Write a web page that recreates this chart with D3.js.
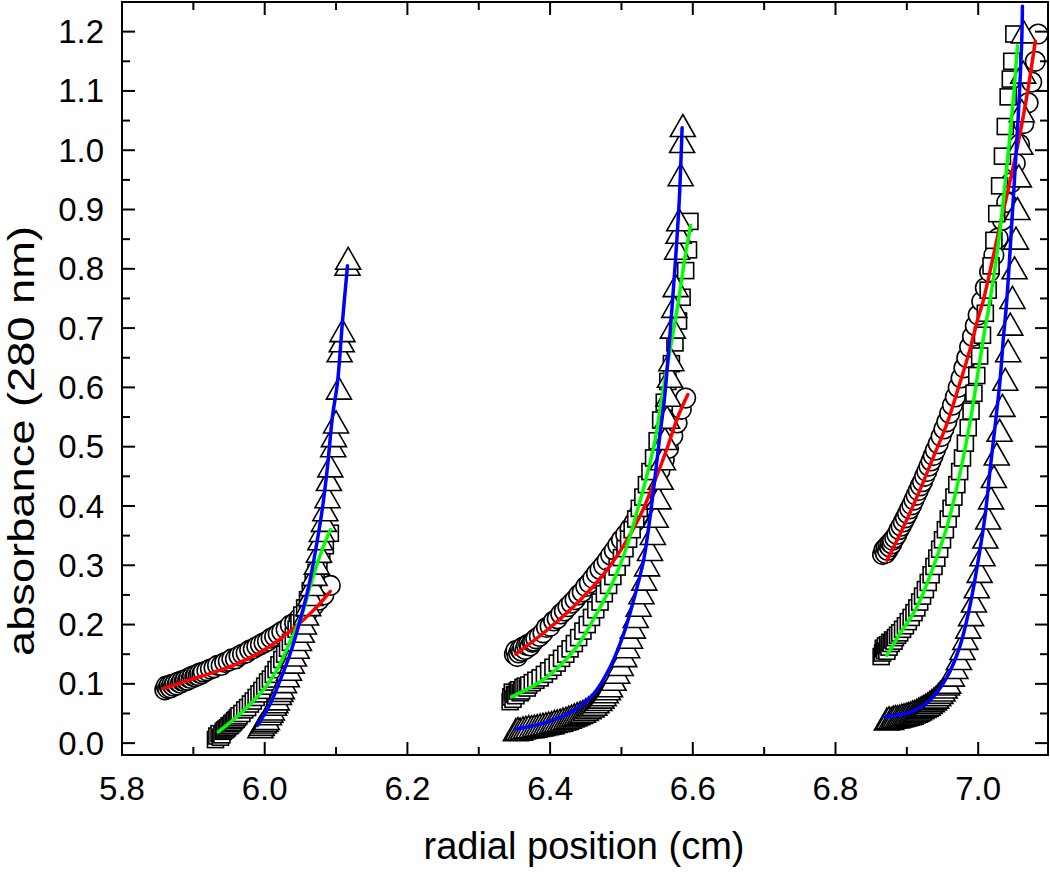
<!DOCTYPE html>
<html><head><meta charset="utf-8">
<script src="https://cdn.jsdelivr.net/npm/d3@7"></script>
<style>html,body{margin:0;padding:0;background:#fff;}svg{display:block;}</style>
</head><body>
<svg id="chart" width="1050" height="872"></svg>
<script>
// ---------- data (radial position cm, absorbance) ----------
// Cell 1
const circles1 = [[5.860,0.090],[5.862,0.096],[5.864,0.092],[5.866,0.097],[5.868,0.093],[5.870,0.099],[5.872,0.096],[5.874,0.100],[5.877,0.098],[5.879,0.103],[5.882,0.101],[5.884,0.105],[5.887,0.104],[5.889,0.107],[5.892,0.106],[5.894,0.110],[5.897,0.109],[5.899,0.113],[5.902,0.112],[5.904,0.115],[5.907,0.114],[5.909,0.118],[5.912,0.117],[5.914,0.120],[5.919,0.122],[5.924,0.125],[5.929,0.127],[5.934,0.131],[5.939,0.131],[5.944,0.136],[5.949,0.138],[5.954,0.142],[5.959,0.142],[5.964,0.147],[5.969,0.150],[5.974,0.152],[5.979,0.157],[5.984,0.159],[5.989,0.163],[5.994,0.166],[5.999,0.169],[6.004,0.172],[6.009,0.177],[6.014,0.180],[6.019,0.184],[6.024,0.188],[6.030,0.192],[6.036,0.199],[6.042,0.203],[6.048,0.210],[6.055,0.216],[6.062,0.224],[6.069,0.232],[6.076,0.241],[6.083,0.250],[6.092,0.266]];
const squares1 = [[5.931,0.006],[5.933,0.012],[5.936,0.016],[5.938,0.010],[5.940,0.014],[5.942,0.020],[5.944,0.022],[5.946,0.024],[5.948,0.026],[5.950,0.029],[5.952,0.030],[5.954,0.033],[5.956,0.035],[5.958,0.038],[5.960,0.040],[5.962,0.043],[5.964,0.046],[5.968,0.050],[5.972,0.056],[5.976,0.060],[5.980,0.066],[5.984,0.071],[5.988,0.077],[5.992,0.083],[5.996,0.089],[6.000,0.096],[6.004,0.103],[6.008,0.108],[6.012,0.116],[6.016,0.124],[6.020,0.132],[6.024,0.141],[6.028,0.150],[6.032,0.160],[6.036,0.170],[6.040,0.180],[6.044,0.192],[6.048,0.203],[6.052,0.216],[6.056,0.228],[6.060,0.242],[6.064,0.257],[6.068,0.272],[6.072,0.288],[6.076,0.305],[6.080,0.318],[6.085,0.333],[6.092,0.354]];
const triangles1 = [[5.994,0.026],[5.996,0.030],[5.999,0.034],[6.001,0.037],[6.003,0.040],[6.006,0.048],[6.008,0.052],[6.010,0.056],[6.013,0.064],[6.015,0.068],[6.017,0.073],[6.020,0.082],[6.022,0.087],[6.024,0.092],[6.027,0.102],[6.031,0.112],[6.034,0.123],[6.038,0.135],[6.041,0.147],[6.045,0.160],[6.048,0.173],[6.052,0.187],[6.055,0.201],[6.058,0.216],[6.061,0.232],[6.064,0.249],[6.067,0.266],[6.070,0.283],[6.073,0.302],[6.076,0.322],[6.078,0.343],[6.080,0.357],[6.083,0.374],[6.085,0.392],[6.088,0.414],[6.090,0.443],[6.092,0.466],[6.096,0.500],[6.097,0.517],[6.100,0.540],[6.104,0.597],[6.105,0.660],[6.108,0.677],[6.109,0.694],[6.116,0.806],[6.117,0.816]];
const fitRed1 = [[5.858,0.092],[5.909,0.112],[5.956,0.131],[6.003,0.160],[6.040,0.193],[6.070,0.226],[6.092,0.256]];
const fitGreen1 = [[5.935,0.019],[5.966,0.050],[6.001,0.094],[6.017,0.123],[6.036,0.172],[6.052,0.216],[6.064,0.266],[6.078,0.318],[6.092,0.360]];
const fitBlue1 = [[5.990,0.030],[6.008,0.067],[6.022,0.107],[6.036,0.152],[6.050,0.209],[6.062,0.266],[6.071,0.323],[6.081,0.397],[6.088,0.466],[6.095,0.551],[6.102,0.608],[6.109,0.711],[6.116,0.805]];
// Cell 2
const circles2 = [[6.350,0.150],[6.352,0.156],[6.354,0.146],[6.356,0.152],[6.358,0.158],[6.360,0.155],[6.362,0.162],[6.365,0.158],[6.367,0.165],[6.370,0.167],[6.372,0.164],[6.375,0.170],[6.377,0.172],[6.380,0.176],[6.385,0.180],[6.390,0.186],[6.395,0.195],[6.400,0.197],[6.405,0.206],[6.410,0.210],[6.415,0.218],[6.420,0.223],[6.425,0.230],[6.430,0.236],[6.435,0.242],[6.440,0.250],[6.445,0.255],[6.450,0.264],[6.455,0.270],[6.460,0.278],[6.465,0.286],[6.470,0.293],[6.475,0.300],[6.480,0.308],[6.485,0.317],[6.490,0.325],[6.495,0.334],[6.500,0.343],[6.506,0.352],[6.512,0.362],[6.518,0.372],[6.524,0.385],[6.530,0.398],[6.536,0.412],[6.542,0.427],[6.548,0.443],[6.554,0.460],[6.560,0.478],[6.566,0.497],[6.572,0.518],[6.578,0.540],[6.584,0.563],[6.590,0.582]];
const squares2 = [[6.344,0.070],[6.345,0.078],[6.347,0.086],[6.348,0.074],[6.350,0.082],[6.352,0.080],[6.354,0.088],[6.356,0.090],[6.358,0.085],[6.360,0.088],[6.362,0.094],[6.365,0.096],[6.368,0.093],[6.370,0.098],[6.375,0.102],[6.380,0.106],[6.386,0.110],[6.392,0.116],[6.398,0.122],[6.404,0.128],[6.410,0.135],[6.416,0.143],[6.422,0.150],[6.428,0.159],[6.434,0.168],[6.440,0.178],[6.446,0.189],[6.452,0.200],[6.458,0.212],[6.464,0.225],[6.470,0.238],[6.476,0.252],[6.482,0.266],[6.488,0.281],[6.494,0.297],[6.500,0.313],[6.505,0.328],[6.510,0.344],[6.515,0.360],[6.520,0.378],[6.525,0.396],[6.530,0.415],[6.535,0.436],[6.540,0.458],[6.545,0.481],[6.550,0.510],[6.555,0.545],[6.560,0.575],[6.565,0.610],[6.570,0.640],[6.575,0.675],[6.580,0.712],[6.585,0.752],[6.590,0.797],[6.594,0.832],[6.596,0.880]];
const triangles2 = [[6.352,0.021],[6.355,0.023],[6.358,0.022],[6.362,0.024],[6.366,0.025],[6.370,0.026],[6.374,0.026],[6.378,0.027],[6.382,0.028],[6.386,0.029],[6.390,0.030],[6.394,0.031],[6.398,0.032],[6.402,0.033],[6.406,0.035],[6.410,0.036],[6.414,0.037],[6.418,0.039],[6.422,0.040],[6.426,0.042],[6.430,0.044],[6.434,0.046],[6.438,0.048],[6.442,0.050],[6.446,0.052],[6.450,0.055],[6.454,0.058],[6.458,0.061],[6.462,0.064],[6.465,0.068],[6.469,0.072],[6.472,0.076],[6.475,0.080],[6.478,0.085],[6.481,0.090],[6.484,0.095],[6.489,0.106],[6.494,0.118],[6.499,0.131],[6.504,0.146],[6.508,0.161],[6.512,0.177],[6.516,0.194],[6.520,0.212],[6.524,0.231],[6.528,0.252],[6.532,0.275],[6.536,0.299],[6.540,0.325],[6.544,0.352],[6.548,0.381],[6.552,0.412],[6.555,0.445],[6.558,0.478],[6.561,0.512],[6.564,0.548],[6.566,0.585],[6.568,0.617],[6.570,0.645],[6.572,0.700],[6.574,0.735],[6.576,0.770],[6.578,0.833],[6.580,0.860],[6.581,0.881],[6.583,0.957],[6.585,1.013],[6.586,1.040]];
const fitRed2 = [[6.352,0.150],[6.395,0.190],[6.442,0.241],[6.479,0.291],[6.503,0.333],[6.526,0.383],[6.545,0.437],[6.563,0.494],[6.580,0.553],[6.593,0.588]];
const fitGreen2 = [[6.346,0.078],[6.395,0.111],[6.437,0.162],[6.465,0.218],[6.489,0.274],[6.507,0.330],[6.521,0.387],[6.535,0.448],[6.547,0.510],[6.556,0.578],[6.568,0.662],[6.580,0.746],[6.589,0.819],[6.597,0.873]];
const fitBlue2 = [[6.352,0.024],[6.395,0.035],[6.433,0.055],[6.461,0.083],[6.484,0.128],[6.503,0.184],[6.517,0.241],[6.531,0.308],[6.540,0.381],[6.547,0.448],[6.554,0.521],[6.560,0.578],[6.568,0.690],[6.575,0.802],[6.581,0.915],[6.585,1.038]];
// Cell 3
const circles3 = [[6.866,0.318],[6.868,0.326],[6.870,0.320],[6.871,0.330],[6.873,0.325],[6.874,0.334],[6.876,0.331],[6.877,0.338],[6.879,0.336],[6.880,0.342],[6.883,0.346],[6.886,0.352],[6.889,0.360],[6.892,0.366],[6.895,0.373],[6.898,0.380],[6.901,0.387],[6.904,0.395],[6.907,0.402],[6.910,0.410],[6.913,0.418],[6.916,0.426],[6.919,0.434],[6.922,0.441],[6.925,0.450],[6.928,0.458],[6.931,0.467],[6.934,0.476],[6.937,0.485],[6.940,0.494],[6.944,0.505],[6.948,0.517],[6.952,0.530],[6.956,0.542],[6.960,0.556],[6.964,0.570],[6.968,0.584],[6.972,0.600],[6.976,0.616],[6.980,0.633],[6.984,0.650],[6.988,0.668],[6.992,0.686],[6.996,0.704],[7.000,0.722],[7.005,0.745],[7.010,0.768],[7.016,0.795],[7.022,0.823],[7.028,0.852],[7.034,0.882],[7.040,0.912],[7.046,0.945],[7.052,0.978],[7.058,1.010],[7.064,1.045],[7.070,1.080],[7.075,1.115],[7.080,1.150],[7.084,1.196]];
const squares3 = [[6.864,0.146],[6.866,0.152],[6.867,0.160],[6.869,0.156],[6.870,0.164],[6.872,0.155],[6.873,0.166],[6.875,0.162],[6.876,0.170],[6.878,0.168],[6.880,0.174],[6.882,0.172],[6.884,0.178],[6.887,0.182],[6.890,0.186],[6.894,0.192],[6.898,0.198],[6.902,0.205],[6.906,0.212],[6.910,0.220],[6.914,0.228],[6.918,0.238],[6.922,0.248],[6.926,0.259],[6.930,0.271],[6.934,0.284],[6.938,0.298],[6.942,0.312],[6.946,0.327],[6.950,0.343],[6.954,0.360],[6.958,0.378],[6.962,0.396],[6.966,0.415],[6.970,0.436],[6.974,0.458],[6.978,0.481],[6.982,0.506],[6.986,0.532],[6.990,0.560],[6.994,0.590],[6.998,0.620],[7.002,0.653],[7.006,0.688],[7.010,0.725],[7.014,0.764],[7.018,0.805],[7.022,0.848],[7.026,0.893],[7.030,0.940],[7.034,0.990],[7.038,1.040],[7.042,1.090],[7.045,1.120],[7.047,1.150],[7.050,1.196]];
const triangles3 = [[6.872,0.039],[6.875,0.041],[6.878,0.040],[6.881,0.042],[6.884,0.043],[6.887,0.043],[6.890,0.044],[6.893,0.045],[6.896,0.046],[6.899,0.047],[6.902,0.048],[6.905,0.049],[6.908,0.051],[6.911,0.052],[6.914,0.054],[6.917,0.056],[6.920,0.058],[6.923,0.060],[6.926,0.062],[6.929,0.064],[6.932,0.067],[6.935,0.070],[6.938,0.073],[6.941,0.076],[6.944,0.080],[6.947,0.084],[6.950,0.088],[6.953,0.093],[6.956,0.098],[6.958,0.101],[6.963,0.113],[6.968,0.126],[6.973,0.141],[6.978,0.158],[6.982,0.175],[6.986,0.194],[6.990,0.215],[6.994,0.238],[6.998,0.262],[7.002,0.288],[7.006,0.316],[7.010,0.346],[7.014,0.378],[7.018,0.412],[7.022,0.448],[7.026,0.486],[7.030,0.526],[7.034,0.568],[7.038,0.612],[7.042,0.660],[7.045,0.705],[7.048,0.750],[7.051,0.800],[7.053,0.850],[7.055,0.900],[7.057,0.955],[7.059,1.010],[7.061,1.065],[7.063,1.130],[7.064,1.198]];
const fitRed3 = [[6.872,0.308],[6.895,0.364],[6.918,0.426],[6.937,0.482],[6.956,0.538],[6.974,0.606],[6.988,0.662],[7.000,0.718],[7.007,0.746],[7.030,0.870],[7.054,1.000],[7.068,1.090],[7.080,1.184]];
const fitGreen3 = [[6.872,0.148],[6.890,0.184],[6.914,0.229],[6.937,0.297],[6.956,0.364],[6.970,0.431],[6.982,0.499],[6.991,0.558],[7.000,0.627],[7.008,0.688],[7.0165,0.746],[7.030,0.859],[7.040,0.971],[7.049,1.083],[7.055,1.176]];
const fitBlue3 = [[6.869,0.045],[6.904,0.052],[6.932,0.072],[6.956,0.111],[6.974,0.162],[6.988,0.229],[7.000,0.308],[7.010,0.387],[7.017,0.465],[7.024,0.538],[7.031,0.617],[7.035,0.679],[7.040,0.746],[7.049,0.915],[7.056,1.055],[7.061,1.184],[7.062,1.243]];

const xMajorTicks = [5.8, 6.0, 6.2, 6.4, 6.6, 6.8, 7.0];
const xMinorTicks = [5.9, 6.1, 6.3, 6.5, 6.7, 6.9];
const yMajorTicks = [0.0, 0.1, 0.2, 0.3, 0.4, 0.5, 0.6, 0.7, 0.8, 0.9, 1.0, 1.1, 1.2];
const yMinorTicks = [0.05, 0.15, 0.25, 0.35, 0.45, 0.55, 0.65, 0.75, 0.85, 0.95, 1.05, 1.15];
const xTitle = "radial position (cm)";
const yTitle = "absorbance (280 nm)";

// ---------- drawing ----------
const svg = d3.select("#chart");
const L = 122, R = 1048, T = 2, B = 755;
const x = d3.scaleLinear().domain([5.8, 7.1]).range([L, L + 713.5 * 1.3]);
const y = d3.scaleLinear().domain([-0.02, 1.25]).range([B, T]);

const FONT = "'Liberation Sans', Arial, Helvetica, sans-serif";

const plot = svg.append("g");
const markerStroke = 1.6;

function drawCircles(data) {
  plot.append("g").selectAll("circle").data(data).join("circle")
    .attr("cx", d => x(d[0])).attr("cy", d => y(d[1])).attr("r", 9.8)
    .attr("fill", "#fff").attr("stroke", "#000").attr("stroke-width", markerStroke);
}
function drawSquares(data) {
  const s = 16;
  plot.append("g").selectAll("rect").data(data).join("rect")
    .attr("x", d => x(d[0]) - s/2).attr("y", d => y(d[1]) - s/2)
    .attr("width", s).attr("height", s)
    .attr("fill", "#fff").attr("stroke", "#000").attr("stroke-width", markerStroke);
}
function drawTriangles(data) {
  plot.append("g").selectAll("path").data(data).join("path")
    .attr("d", "M0,-12L12.5,10L-12.5,10Z")
    .attr("transform", d => `translate(${x(d[0])},${y(d[1])})`)
    .attr("fill", "#fff").attr("stroke", "#000").attr("stroke-width", markerStroke)
    .attr("stroke-linejoin", "miter");
}
const line = d3.line().x(d => x(d[0])).y(d => y(d[1])).curve(d3.curveCatmullRom.alpha(0.5));
function drawFit(data, color) {
  plot.append("path").datum(data).attr("d", line)
    .attr("fill", "none").attr("stroke", color).attr("stroke-width", 3.5)
    .attr("stroke-linecap", "round");
}

[[circles1, squares1, triangles1], [circles2, squares2, triangles2], [circles3, squares3, triangles3]]
  .forEach(([c, s, t]) => { drawCircles(c); drawSquares(s); drawTriangles(t); });
[[fitRed1, fitGreen1, fitBlue1], [fitRed2, fitGreen2, fitBlue2], [fitRed3, fitGreen3, fitBlue3]]
  .forEach(([r, g, b]) => { drawFit(r, "#ff0000"); drawFit(g, "#00ff00"); drawFit(b, "#0000ff"); });

// frame
const axisG = svg.append("g").attr("stroke", "#000").attr("stroke-width", 2);
axisG.append("rect").attr("x", L).attr("y", T).attr("width", R - L).attr("height", B - T).attr("fill", "none");
const MAJ = 13, MIN = 8;
xMajorTicks.forEach(v => {
  axisG.append("line").attr("x1", x(v)).attr("x2", x(v)).attr("y1", B).attr("y2", B - MAJ);
  axisG.append("line").attr("x1", x(v)).attr("x2", x(v)).attr("y1", T).attr("y2", T + MAJ);
});
xMinorTicks.forEach(v => {
  axisG.append("line").attr("x1", x(v)).attr("x2", x(v)).attr("y1", B).attr("y2", B - MIN);
  axisG.append("line").attr("x1", x(v)).attr("x2", x(v)).attr("y1", T).attr("y2", T + MIN);
});
yMajorTicks.forEach(v => {
  axisG.append("line").attr("y1", y(v)).attr("y2", y(v)).attr("x1", L).attr("x2", L + MAJ);
  axisG.append("line").attr("y1", y(v)).attr("y2", y(v)).attr("x1", R).attr("x2", R - MAJ);
});
yMinorTicks.forEach(v => {
  axisG.append("line").attr("y1", y(v)).attr("y2", y(v)).attr("x1", L).attr("x2", L + MIN);
  axisG.append("line").attr("y1", y(v)).attr("y2", y(v)).attr("x1", R).attr("x2", R - MIN);
});

// tick labels
const fmt = d3.format(".1f");
svg.append("g").selectAll("text").data(xMajorTicks).join("text")
  .attr("x", d => x(d)).attr("y", 800).attr("text-anchor", "middle")
  .attr("font-family", FONT).attr("font-size", 33).attr("fill", "#000").text(fmt);
svg.append("g").selectAll("text").data(yMajorTicks).join("text")
  .attr("x", 104).attr("y", d => y(d)).attr("dy", "0.35em").attr("text-anchor", "end")
  .attr("font-family", FONT).attr("font-size", 33).attr("fill", "#000").text(fmt);

// titles
svg.append("text").attr("x", 584).attr("y", 859).attr("text-anchor", "middle")
  .attr("font-family", FONT).attr("font-size", 38).attr("fill", "#000").text(xTitle);
svg.append("text").attr("transform", "translate(34,441) rotate(-90)").attr("text-anchor", "middle")
  .attr("font-family", FONT).attr("font-size", 36).attr("fill", "#000")
  .attr("textLength", 430).attr("lengthAdjust", "spacingAndGlyphs").text(yTitle);
</script>
</body></html>
